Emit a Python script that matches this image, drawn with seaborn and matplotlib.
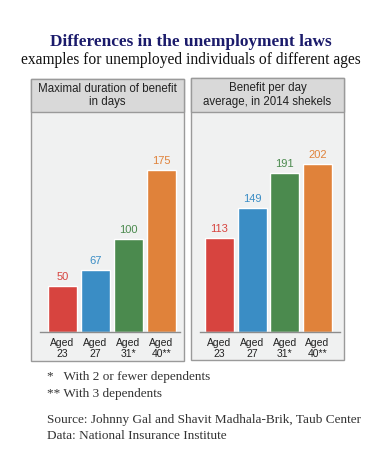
import matplotlib
matplotlib.use("Agg")
import matplotlib.pyplot as plt
import seaborn as sns
import pandas as pd
from matplotlib.patches import Rectangle

categories = ["Aged\n23", "Aged\n27", "Aged\n31*", "Aged\n40**"]
duration_days = [50, 67, 100, 175]
benefit_per_day = [113, 149, 191, 202]
colors = ["#D7443F", "#3A8DC5", "#4B8A4E", "#E0823A"]

title = "Differences in the unemployment laws"
subtitle = "examples for unemployed individuals of different ages"
panel_titles = ["Maximal duration of benefit\nin days", "Benefit per day\naverage, in 2014 shekels"]
notes = ["*   With 2 or fewer dependents", "** With 3 dependents"]
sources = ["Source: Johnny Gal and Shavit Madhala-Brik, Taub Center", "Data: National Insurance Institute"]

sns.set_theme(style="white")
plt.rcParams["font.family"] = ["Liberation Sans", "DejaVu Sans"]

W, H = 387, 466
fig = plt.figure(figsize=(W / 100, H / 100), dpi=100)
fig.patch.set_facecolor("white")


def fx(px):
    return px / W


def fy(py):
    return 1 - py / H


serif = ["Liberation Serif", "DejaVu Serif"]
fig.text(fx(191), fy(42), title, ha="center", va="center", fontsize=12.4, fontweight="bold",
         color="#1B1B6B", family=serif)
fig.text(fx(191), fy(60), subtitle, ha="center", va="center", fontsize=11.2, color="#111111", family=serif)

panels = [
    dict(box=(31, 79, 184, 361), ax=(40, 180), xlim=(-0.682, 3.56), vals=duration_days, scale=0.926),
    dict(box=(191, 78, 344, 360), ax=(200, 340), xlim=(-0.596, 3.69), vals=benefit_per_day, scale=0.832),
]
header_bottom = 112
baseline = 332

for p, ptitle in zip(panels, panel_titles):
    x0, y0, x1, y1 = p["box"]
    fig.patches.append(Rectangle((fx(x0), fy(y1)), fx(x1 - x0), (y1 - y0) / H, transform=fig.transFigure,
                                 facecolor="#F0F1F1", edgecolor="#9A9A9A", linewidth=1.0, zorder=-2))
    fig.patches.append(Rectangle((fx(x0), fy(header_bottom)), fx(x1 - x0), (header_bottom - y0) / H,
                                 transform=fig.transFigure, facecolor="#D9D9D9", edgecolor="#9A9A9A",
                                 linewidth=1.0, zorder=-1))
    fig.text(fx((x0 + x1) / 2), fy((y0 + header_bottom) / 2), ptitle, ha="center", va="center",
             fontsize=8.3, color="#222222", linespacing=1.15)

    ax0, ax1 = p["ax"]
    ax = fig.add_axes([fx(ax0), fy(baseline), fx(ax1 - ax0), (baseline - header_bottom) / H])
    ax.set_zorder(1)
    ax.patch.set_alpha(0)
    df = pd.DataFrame({"cat": categories, "val": p["vals"]})
    sns.barplot(data=df, x="cat", y="val", hue="cat", palette=colors, legend=False, ax=ax,
                width=0.88, saturation=1)
    ax.set_xlim(*p["xlim"])
    ax.set_ylim(0, (baseline - header_bottom) / p["scale"])
    for cont, c in zip(ax.containers, colors):
        ax.bar_label(cont, fmt="%d", padding=3, color=c, fontsize=8)
    ax.set_xlabel("")
    ax.set_ylabel("")
    ax.set_yticks([])
    ax.tick_params(axis="x", length=0, labelsize=7.5, labelcolor="#222222", pad=4)
    for lbl in ax.get_xticklabels():
        lbl.set_linespacing(1.15)
    for s in ["top", "right", "left"]:
        ax.spines[s].set_visible(False)
    ax.spines["bottom"].set_color("#8C8C8C")
    ax.spines["bottom"].set_linewidth(1.0)

ys = [377, 394]
for t, y in zip(notes, ys):
    fig.text(fx(47), fy(y), t, ha="left", va="center", fontsize=9.5, color="#333333", family=serif)
ys = [420, 436]
for t, y in zip(sources, ys):
    fig.text(fx(47), fy(y), t, ha="left", va="center", fontsize=9.5, color="#333333", family=serif)

fig.savefig("out.png", dpi=100)
